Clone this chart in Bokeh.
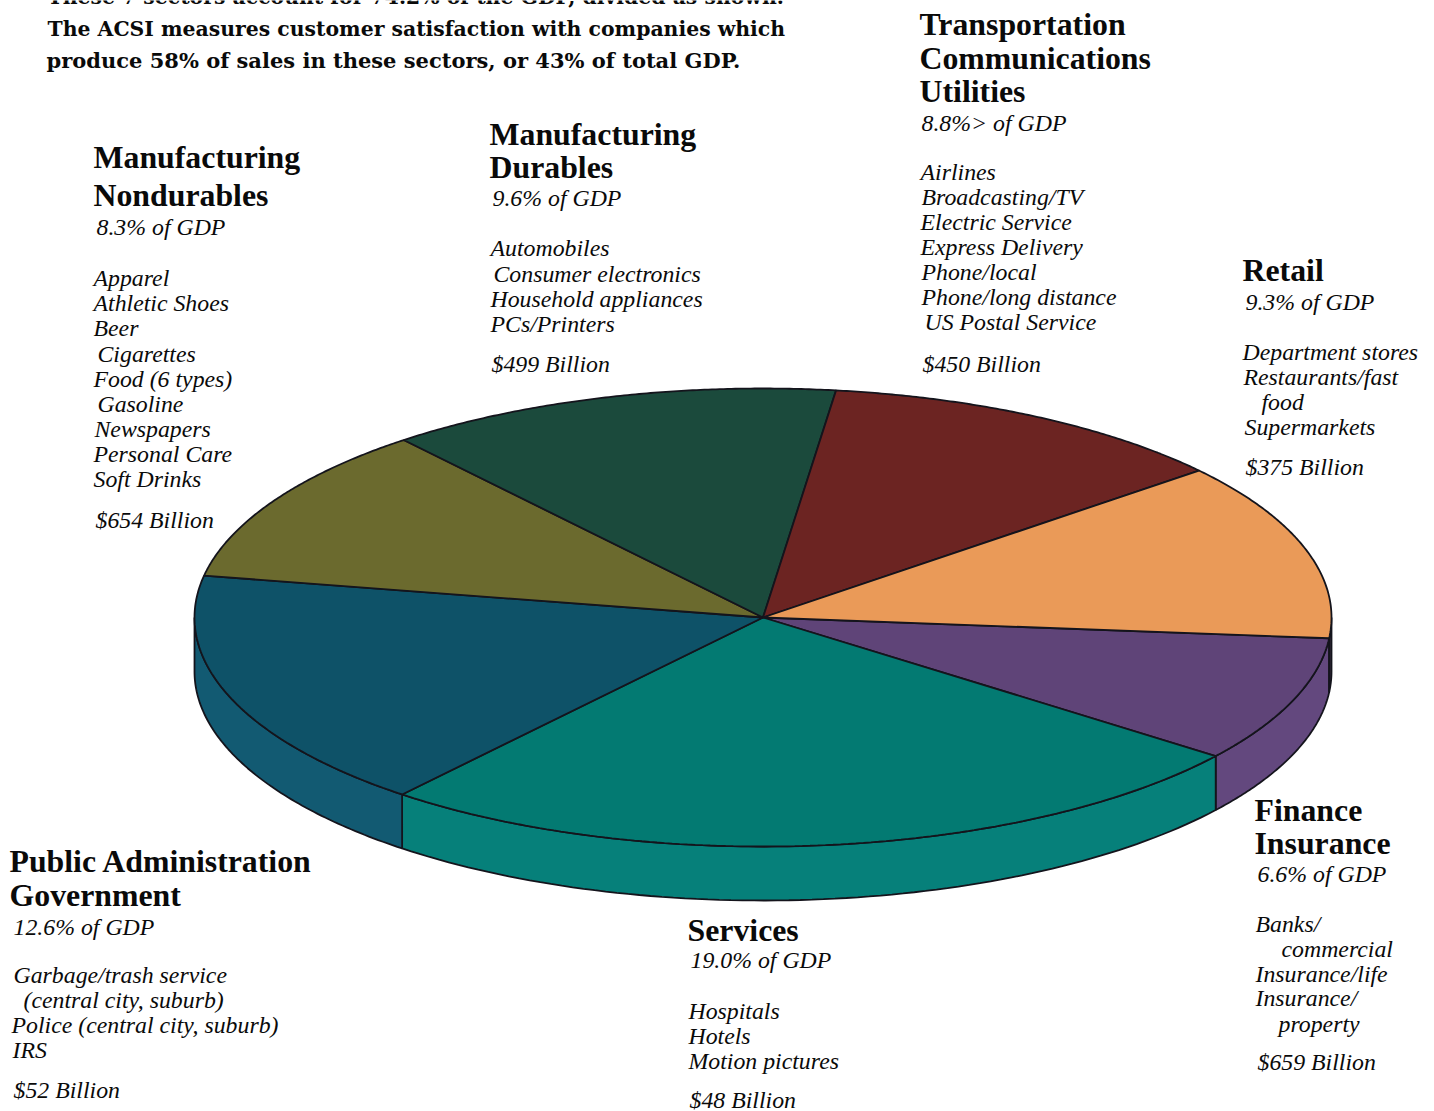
import numpy as np
from bokeh.plotting import figure
from bokeh.core.properties import value
from bokeh.embed import file_html
from bokeh.resources import INLINE

# ---- data (clockwise from the Retail / Finance boundary) ----
sectors = ["Finance Insurance", "Services", "Public Administration Government",
           "Manufacturing Nondurables", "Manufacturing Durables",
           "Transportation Communications Utilities", "Retail"]
gdp_share = [6.6, 19.0, 12.6, 8.3, 9.6, 8.8, 9.3]
top_colors = ["#5f4478", "#037a72", "#0e5268", "#6b6a2e", "#1b4a3c", "#6c2422", "#ea9a58"]
wall_colors = ["#63487e", "#06807a", "#125a72", "#6b6a2e", "#1b4a3c", "#6c2422", "#33293a"]

intro = ["These 7 sectors account for 74.2% of the GDP, divided as shown.",
         "The ACSI measures customer satisfaction with companies which",
         "produce 58% of sales in these sectors, or 43% of total GDP."]

# ---- layout ----
CX, CY, RX, RY, DEPTH, START = 762.5, 617.0, 568.5, 229.0, 54.0, -5.2
OUT = "#14141c"

W, H = 1434, 1111
p = figure(width=W, height=H, x_range=(0, W), y_range=(H, 0),
           output_backend="svg", toolbar_location=None, min_border=0,
           background_fill_color="white", border_fill_color="white")
p.axis.visible = False
p.grid.visible = False
p.outline_line_color = None

shares = np.array(gdp_share, dtype=float)
edges = START - np.concatenate([[0.0], np.cumsum(shares)]) * 360.0 / shares.sum()


def rim(deg):
    t = np.radians(deg)
    return CX + RX * np.cos(t), CY - RY * np.sin(t)


# side walls: only the part of each slice on the near half of the disc
wx, wy, wc = [], [], []
for a1, a0, c in zip(edges[:-1], edges[1:], wall_colors):
    lo, hi = a0 % 360, a0 % 360 + (a1 - a0)
    lo2, hi2 = max(lo, 180.0), min(hi, 360.0)
    if hi2 <= lo2:
        lo2, hi2 = max(lo - 360, 180.0), min(hi - 360, 360.0)
    if hi2 <= lo2:
        continue
    t = np.linspace(lo2, hi2, 80)
    x, y = rim(t)
    wx.append(np.concatenate([x, x[::-1]]))
    wy.append(np.concatenate([y, (y + DEPTH)[::-1]]))
    wc.append(c)
p.patches(wx, wy, fill_color=wc, line_color=OUT, line_width=1.8)

# top of the disc
tx, ty = [], []
for a1, a0 in zip(edges[:-1], edges[1:]):
    t = np.linspace(a0, a1, 120)
    x, y = rim(t)
    tx.append(np.concatenate([[CX], x]))
    ty.append(np.concatenate([[CY], y]))
p.patches(tx, ty, fill_color=top_colors, line_color=OUT, line_width=1.8)

# ---- text ----
H_FONT = "Liberation Serif"
blocks = [
    # (x, y, text, kind)
    (93, 168, "Manufacturing", "h"), (93, 206, "Nondurables", "h"), (96, 235, "8.3% of GDP", "i"),
    (93, 286, "Apparel", "i"), (93, 311, "Athletic Shoes", "i"), (93, 336, "Beer", "i"),
    (97, 362, "Cigarettes", "i"), (93, 387, "Food (6 types)", "i"), (97, 412, "Gasoline", "i"),
    (94, 437, "Newspapers", "i"), (93, 462, "Personal Care", "i"), (93, 487, "Soft Drinks", "i"),
    (95, 528, "$654 Billion", "i"),
    (489, 145, "Manufacturing", "h"), (489, 178, "Durables", "h"), (492, 206, "9.6% of GDP", "i"),
    (490, 256, "Automobiles", "i"), (493, 282, "Consumer electronics", "i"),
    (490, 307, "Household appliances", "i"), (490, 332, "PCs/Printers", "i"),
    (491, 372, "$499 Billion", "i"),
    (919, 35, "Transportation", "h"), (919, 69, "Communications", "h"), (919, 102, "Utilities", "h"),
    (921, 131, "8.8%> of GDP", "i"), (920, 180, "Airlines", "i"), (921, 205, "Broadcasting/TV", "i"),
    (920, 230, "Electric Service", "i"), (920, 255, "Express Delivery", "i"), (921, 280, "Phone/local", "i"),
    (921, 305, "Phone/long distance", "i"), (924, 330, "US Postal Service", "i"),
    (922, 372, "$450 Billion", "i"),
    (1242, 281, "Retail", "h"), (1245, 310, "9.3% of GDP", "i"), (1242, 360, "Department stores", "i"),
    (1243, 385, "Restaurants/fast", "i"), (1261, 410, "food", "i"), (1244, 435, "Supermarkets", "i"),
    (1245, 475, "$375 Billion", "i"),
    (1254, 821, "Finance", "h"), (1254, 854, "Insurance", "h"), (1257, 882, "6.6% of GDP", "i"),
    (1255, 932, "Banks/", "i"), (1281, 957, "commercial", "i"), (1255, 982, "Insurance/life", "i"),
    (1255, 1006, "Insurance/", "i"), (1278, 1032, "property", "i"), (1257, 1070, "$659 Billion", "i"),
    (687, 941, "Services", "h"), (690, 968, "19.0% of GDP", "i"), (688, 1019, "Hospitals", "i"),
    (688, 1044, "Hotels", "i"), (688, 1069, "Motion pictures", "i"), (689, 1108, "$48 Billion", "i"),
    (9, 872, "Public Administration", "h"), (9, 906, "Government", "h"), (13, 935, "12.6% of GDP", "i"),
    (13, 983, "Garbage/trash service", "i"), (23, 1008, "(central city, suburb)", "i"),
    (11, 1033, "Police (central city, suburb)", "i"), (12, 1058, "IRS", "i"), (13, 1098, "$52 Billion", "i"),
]
for kind, size, style, dy in (("h", "31.8px", "bold", -11), ("i", "23.8px", "italic", -9)):
    rows = [b for b in blocks if b[3] == kind]
    p.text([b[0] for b in rows], [b[1] + dy for b in rows], text=[b[2] for b in rows],
           text_font=value(H_FONT), text_font_size=size, text_font_style=style,
           text_color="#0a0a0a", text_baseline="alphabetic", text_align="left")

for line, x, y, size in zip(intro, [47, 47, 46], [-4, 28, 60], ["20.4px", "20.4px", "21px"]):
    p.text([x], [y], text=[line], text_font=value("DejaVu Serif"),
           text_font_size=size, text_font_style="bold", text_color="#0a0a0a",
           text_baseline="alphabetic", text_align="left")

open("out.html", "w").write(file_html(p, INLINE))
